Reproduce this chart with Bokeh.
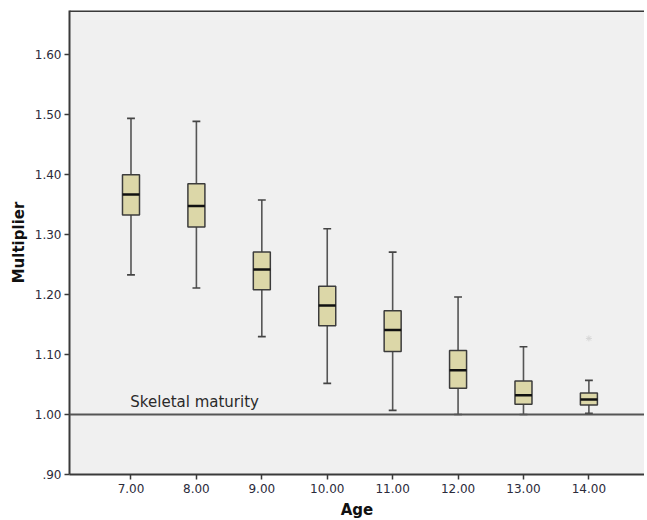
from bokeh.plotting import figure
from bokeh.models import FixedTicker, Span, Label, ColumnDataSource
from bokeh.embed import file_html
from bokeh.resources import INLINE

ages = [7, 8, 9, 10, 11, 12, 13, 14]
whisker_low = [1.233, 1.211, 1.130, 1.052, 1.007, 1.000, 1.000, 1.002]
q1 = [1.333, 1.313, 1.208, 1.148, 1.105, 1.044, 1.017, 1.016]
medians = [1.367, 1.348, 1.242, 1.182, 1.141, 1.074, 1.032, 1.025]
q3 = [1.400, 1.385, 1.271, 1.214, 1.173, 1.107, 1.056, 1.036]
whisker_high = [1.494, 1.489, 1.358, 1.310, 1.271, 1.196, 1.113, 1.057]
outlier_age = [14]
outlier_val = [1.127]
x_ticks = [7, 8, 9, 10, 11, 12, 13, 14]
x_labels = ["7.00", "8.00", "9.00", "10.00", "11.00", "12.00", "13.00", "14.00"]
y_ticks = [0.9, 1.0, 1.1, 1.2, 1.3, 1.4, 1.5, 1.6]
y_labels = [".90", "1.00", "1.10", "1.20", "1.30", "1.40", "1.50", "1.60"]
maturity_level = 1.0

FONT = "DejaVu Sans"
BOX_W = 0.26
CAP_W = 0.12

src = ColumnDataSource(dict(
    x=ages, lo=whisker_low, q1=q1, med=medians, q3=q3, hi=whisker_high,
    left=[a - BOX_W / 2 for a in ages], right=[a + BOX_W / 2 for a in ages],
    cl=[a - CAP_W / 2 for a in ages], cr=[a + CAP_W / 2 for a in ages],
))

p = figure(width=644, height=521, x_range=(6.06, 14.85), y_range=(0.90, 1.674),
           output_backend="svg", toolbar_location=None,
           min_border_left=69, min_border_top=10, min_border_right=0, min_border_bottom=30)
p.background_fill_color = "#f0f0f0"
p.border_fill_color = "white"
p.outline_line_color = None
p.grid.visible = False

# frame top border
p.add_layout(Span(location=1.674, dimension="width", line_color="#3a3a3a", line_width=3))

# reference line
p.add_layout(Span(location=maturity_level, dimension="width", line_color="#555555", line_width=2))
p.add_layout(Label(x=6.99, y=maturity_level, text="Skeletal maturity", y_offset=4,
                   text_font=FONT, text_font_size="15px", text_color="#2a2a2a",
                   text_baseline="bottom"))

# whiskers
p.segment(x0="x", y0="lo", x1="x", y1="q1", source=src, line_color="#555555", line_width=1.6)
p.segment(x0="x", y0="q3", x1="x", y1="hi", source=src, line_color="#555555", line_width=1.6)
p.segment(x0="cl", y0="lo", x1="cr", y1="lo", source=src, line_color="#444444", line_width=1.6)
p.segment(x0="cl", y0="hi", x1="cr", y1="hi", source=src, line_color="#444444", line_width=1.6)

# boxes
p.quad(left="left", right="right", bottom="q1", top="q3", source=src,
       fill_color="#dcd7a8", line_color="#3c3c3c", line_width=1.5)
p.segment(x0="left", y0="med", x1="right", y1="med", source=src, line_color="#111111", line_width=2.5)

# outlier
p.scatter(outlier_age, outlier_val, marker="asterisk", size=6, line_color="#d6d6d6", line_width=1)

for ax in (p.xaxis, p.yaxis):
    ax.axis_line_color = "#3a3a3a"
    ax.axis_line_width = 2
    ax.major_tick_line_color = "#3a3a3a"
    ax.major_tick_line_width = 1.5
    ax.major_tick_out = 5
    ax.major_tick_in = 0
    ax.minor_tick_line_color = None
    ax.major_label_text_font = FONT
    ax.major_label_text_font_size = "12px"
    ax.major_label_text_color = "#2b2b3b"
    ax.axis_label_text_font = FONT
    ax.axis_label_text_font_size = "15px"
    ax.axis_label_text_font_style = "bold"
    ax.axis_label_text_color = "#111111"

p.xaxis.ticker = FixedTicker(ticks=x_ticks)
p.xaxis.major_label_overrides = dict(zip(x_ticks, x_labels))
p.yaxis.ticker = FixedTicker(ticks=y_ticks)
p.yaxis.major_label_overrides = dict(zip(y_ticks, y_labels))
p.xaxis.axis_label = "Age"
p.yaxis.axis_label = "Multiplier"
p.xaxis.major_label_standoff = 4
p.yaxis.major_label_standoff = 3
p.xaxis.axis_label_standoff = 5
p.yaxis.axis_label_standoff = 4

open("out.html", "w").write(file_html(p, INLINE))
